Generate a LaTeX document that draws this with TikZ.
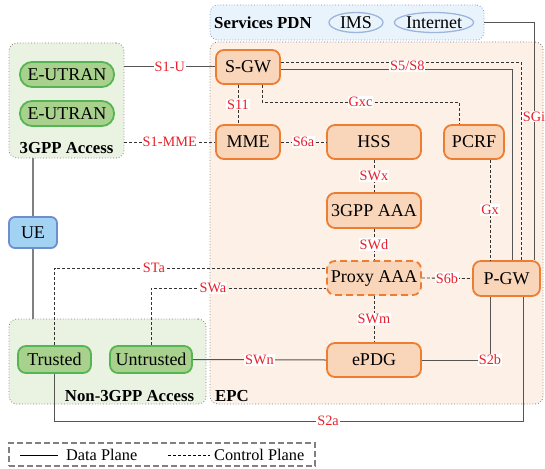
\documentclass[tikz,border=0pt]{standalone}
\usepackage{fontspec}
\setmainfont{Liberation Serif}
\usetikzlibrary{fit,calc,shapes.geometric}
\definecolor{orfill}{HTML}{F9D6BA}
\definecolor{ordraw}{HTML}{ED7D31}
\definecolor{epcfill}{HTML}{FDF0E6}
\definecolor{grfill}{HTML}{A9D18E}
\definecolor{grdraw}{HTML}{55B555}
\definecolor{accfill}{HTML}{EAF3E2}
\definecolor{pdnfill}{HTML}{E9F3FB}
\definecolor{pdndraw}{HTML}{7B9BD6}
\definecolor{elldraw}{HTML}{9DB5DD}
\definecolor{uefill}{HTML}{A3D3F3}
\definecolor{uedraw}{HTML}{6E8ED0}
\definecolor{lblred}{HTML}{E8202A}
\definecolor{lnc}{HTML}{555555}
\newcommand{\nfont}{\fontsize{18}{20}\selectfont}
\newcommand{\tfont}{\fontsize{16.8}{19}\selectfont}
\newcommand{\gfont}{\fontsize{16.3}{18}\selectfont}
\newcommand{\lfont}{\fontsize{14.3}{15}\selectfont}
\tikzset{
  region/.style={draw=gray, dotted, line width=0.8pt, rounded corners=8pt, inner sep=0pt},
  epcnode/.style={draw=ordraw, fill=orfill, line width=1.8pt, rounded corners=8pt, inner sep=0pt, font=\nfont},
  grnode/.style={draw=grdraw, fill=grfill, line width=1.8pt, rounded corners=8pt, inner sep=0pt, font=\nfont},
  uenode/.style={draw=uedraw, fill=uefill, line width=1.8pt, rounded corners=6pt, inner sep=0pt, font=\nfont},
  pdnell/.style={draw=elldraw, line width=1.3pt, ellipse, inner sep=0pt, font=\nfont},
  title/.style={font=\tfont\bfseries, inner sep=0pt},
  dataln/.style={draw=lnc, line width=1pt},
  ctrlln/.style={draw=black!80, line width=0.8pt, dash pattern=on 3pt off 2pt},
  ueln/.style={draw=gray, line width=1.5pt},
  lbl/.style={fill=white, text=lblred, font=\lfont, inner sep=1pt},
}
\begin{document}
\begin{tikzpicture}[x=1pt,y=-1pt]
\useasboundingbox (0,0) rectangle (545,468);
% regions
\node[region, draw=pdndraw, fill=pdnfill, fit={(210,5) (484,40)}] (pdn) {};
\node[region, fill=epcfill, fit={(210,42) (543,404)}] (epc) {};
\node[region, fill=accfill, fit={(9,43) (124,158)}] (acc3) {};
\node[region, fill=accfill, fit={(9,319) (206,404)}] (accn) {};
\node[title, anchor=west] (pdnt) at (214,23) {Services PDN};
\node[pdnell, minimum width=54pt, minimum height=20pt] (ims) at (356,22.5) {IMS};
\node[pdnell, minimum width=78pt, minimum height=20pt] (inet) at (434,22.5) {Internet};
\node[title] (acc3t) at (66.5,148.5) {3GPP Access};
\node[title] (accnt) at (129.5,396.5) {Non-3GPP Access};
\node[title] (epct) at (232,396.5) {EPC};
% nodes
\node[grnode, rounded corners=12pt, minimum width=94pt, minimum height=25pt] (eu1) at (67,74.5) {E-UTRAN};
\node[grnode, rounded corners=12pt, minimum width=94pt, minimum height=25pt] (eu2) at (67,113.5) {E-UTRAN};
\node[epcnode, minimum width=64pt, minimum height=34pt] (sgw) at (248,67) {S-GW};
\node[epcnode, minimum width=64pt, minimum height=34pt] (mme) at (248,142) {MME};
\node[epcnode, minimum width=94pt, minimum height=34pt] (hss) at (374,142) {HSS};
\node[epcnode, minimum width=60pt, minimum height=34pt] (pcrf) at (474,142) {PCRF};
\node[epcnode, minimum width=94pt, minimum height=35pt] (aaa) at (374,210.5) {3GPP AAA};
\node[epcnode, dash pattern=on 7pt off 4pt, minimum width=94pt, minimum height=34pt] (proxy) at (374,278) {Proxy AAA};
\node[epcnode, minimum width=67pt, minimum height=35pt] (pgw) at (506.5,278.5) {P-GW};
\node[epcnode, minimum width=94pt, minimum height=34pt] (epdg) at (374,360) {ePDG};
\node[uenode, minimum width=48pt, minimum height=31pt] (ue) at (33,232.5) {UE};
\node[grnode, minimum width=73pt, minimum height=27pt] (trusted) at (54.5,359.5) {Trusted};
\node[grnode, minimum width=82pt, minimum height=27pt] (untrusted) at (151,359.5) {Untrusted};
% helper coordinates
\coordinate (x238) at (238,0);
\coordinate (x490) at (490,0);
\coordinate (x512) at (512,0);
\coordinate (x521) at (521,0);
\coordinate (x523) at (523,0);
\coordinate (x534) at (534,0);
\coordinate (y62) at (0,62);
\coordinate (y70) at (0,70);
\coordinate (gxa) at (262,102);
\coordinate (gxb) at (459,102);
\coordinate (s2acorner) at (523,421);
\coordinate (stacorner) at (54.5,268);
\coordinate (swacorner) at (151,288);
% UE lines
\draw[ueln] (ue.north |- acc3.south) -- (ue.north);
\draw[ueln] (ue.south) -- (ue.south |- accn.north);
% connectors
\draw[dataln] (sgw.west -| acc3.east) -- node[lbl]{S1-U} (sgw.west);
\draw[ctrlln] (mme.west -| acc3.east) -- node[lbl]{S1-MME} (mme.west);
\draw[ctrlln] (sgw.south -| x238) -- node[lbl]{S11} (mme.north -| x238);
\draw[ctrlln] (sgw.south -| gxa) -- (gxa) -- node[lbl]{Gxc} (gxb) -- (pcrf.north -| gxb);
\draw[ctrlln] (mme.east) -- node[lbl]{S6a} (hss.west);
\draw[ctrlln] (hss.south) -- node[lbl]{SWx} (aaa.north);
\draw[ctrlln] (aaa.south) -- node[lbl]{SWd} (proxy.north);
\draw[ctrlln] (proxy.east) -- node[lbl]{S6b} (pgw.west);
\draw[ctrlln] (pcrf.south -| x490) -- node[lbl]{Gx} (pgw.north -| x490);
\draw[ctrlln] (proxy.south) -- node[lbl]{SWm} (epdg.north);
\draw[dataln] (untrusted.east) -- node[lbl]{SWn} (epdg.west);
\draw[dataln] (epdg.east) -- (epdg.east -| x490) node[lbl]{S2b} -- (pgw.south -| x490);
\draw[dataln] (trusted.south) -- (trusted.south |- s2acorner) -- node[lbl, pos=0.584]{S2a} (s2acorner) -- (pgw.south -| x523);
\draw[ctrlln] (trusted.north) -- (stacorner) -- node[lbl, pos=0.366]{STa} (proxy.west |- stacorner);
\draw[ctrlln] (untrusted.north) -- (swacorner) -- node[lbl, pos=0.354]{SWa} (proxy.west |- swacorner);
\draw[ctrlln] (sgw.east |- y62) -- (x521 |- y62) -- (pgw.north -| x521);
\draw[dataln] (sgw.east |- y70) -- node[lbl, pos=0.547, yshift=4pt]{S5/S8} (x512 |- y70) -- (pgw.north -| x512);
\draw[dataln] (pdn.east) -- (pdn.east -| x534) -- node[lbl, pos=0.396]{SGi} (pgw.north -| x534);
% legend
\node[draw=gray, line width=1.3pt, dash pattern=on 6pt off 3pt, fit={(9,443) (315,466)}, inner sep=0pt] (legend) {};
\coordinate (la) at (20,455);
\coordinate (lb) at (58,455);
\coordinate (lc) at (168,455);
\coordinate (ld) at (210,455);
\draw[draw=black, line width=0.8pt] (la) -- (lb);
\node[anchor=west, font=\gfont, inner sep=0pt] (ldata) at (66,455) {Data Plane};
\draw[draw=black, line width=0.8pt, dash pattern=on 3pt off 2pt] (lc) -- (ld);
\node[anchor=west, font=\gfont, inner sep=0pt] (lctrl) at (214,455) {Control Plane};
\end{tikzpicture}
\end{document}
